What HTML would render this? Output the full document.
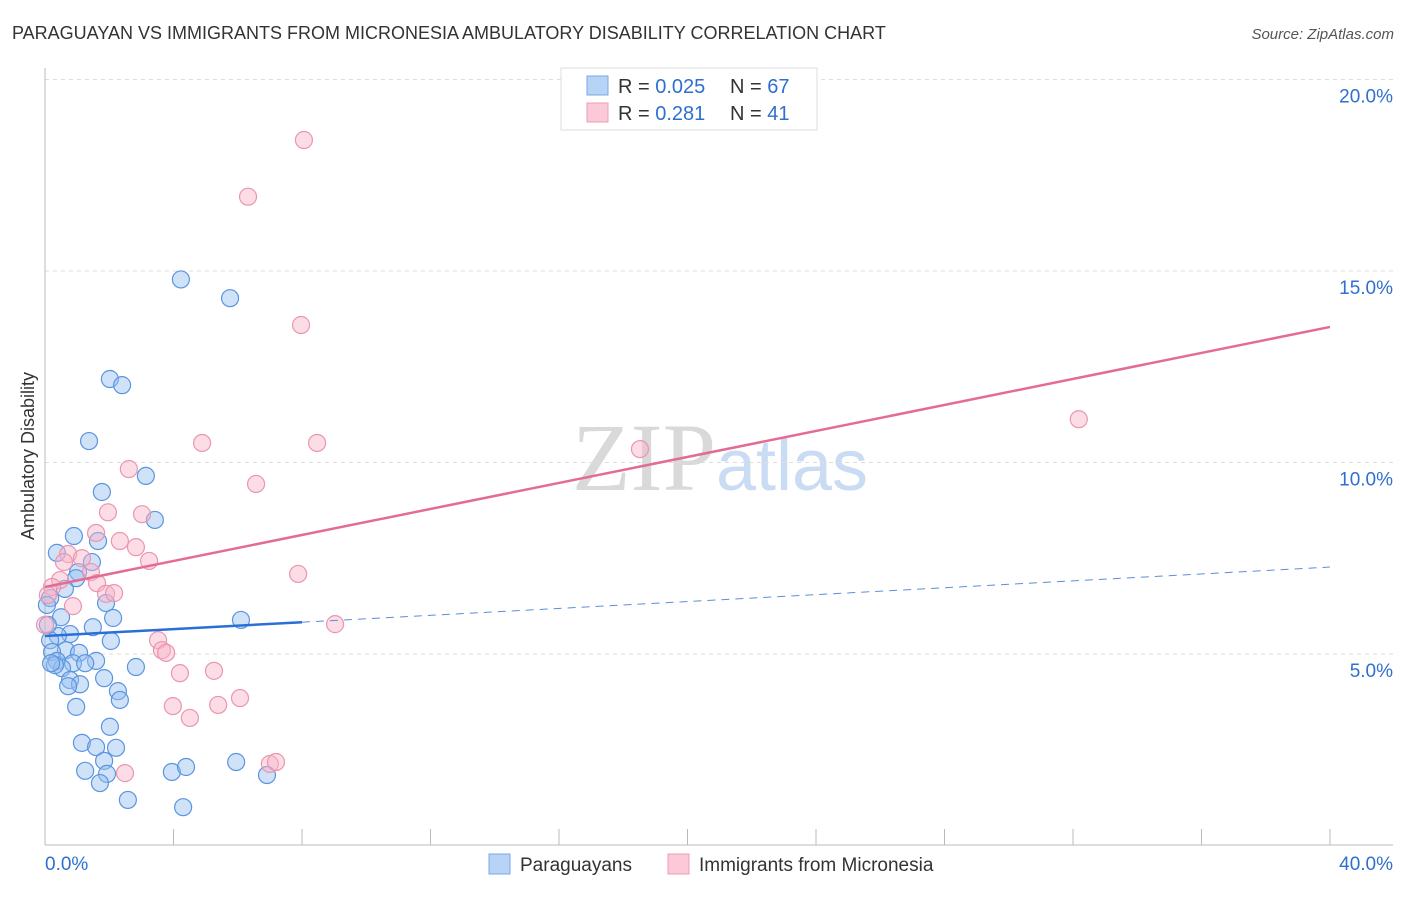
<!DOCTYPE html>
<html><head><meta charset="utf-8"><style>
body{margin:0;background:#fff;font-family:"Liberation Sans",sans-serif}
svg text{font-family:"Liberation Sans",sans-serif}
</style></head><body>
<svg id="chart" width="1406" height="892" viewBox="0 0 1406 892" xmlns="http://www.w3.org/2000/svg">
<text x="12" y="39" font-size="18" fill="#333">PARAGUAYAN VS IMMIGRANTS FROM MICRONESIA AMBULATORY DISABILITY CORRELATION CHART</text>
<text x="1394" y="39" font-size="15" fill="#555" font-style="italic" text-anchor="end">Source: ZipAtlas.com</text>
<text x="720" y="490" font-size="96" text-anchor="middle"><tspan font-family="Liberation Serif,serif" fill="#d9d9d9">ZIP</tspan><tspan fill="#c9dcf3" font-size="72">atlas</tspan></text>
<g id="grid"></g>
<g id="axes"></g>
<g id="marks"></g>
<text transform="translate(34,456) rotate(-90)" font-size="18" fill="#333" text-anchor="middle">Ambulatory Disability</text>
<g>
<rect x="561" y="68" width="256" height="62" fill="#fff" stroke="#ddd"/>
<rect x="587" y="76" width="21" height="19" fill="#b7d3f6" stroke="#7aaae6"/>
<rect x="587" y="103" width="21" height="19" fill="#fbc9d7" stroke="#ee9db5"/>
<text x="618" y="93" font-size="20" fill="#333">R = <tspan fill="#2f6fd0">0.025</tspan></text>
<text x="730" y="93" font-size="20" fill="#333">N = <tspan fill="#2f6fd0">67</tspan></text>
<text x="618" y="120" font-size="20" fill="#333">R =  <tspan fill="#2f6fd0">0.281</tspan></text>
<text x="730" y="120" font-size="20" fill="#333">N =  <tspan fill="#2f6fd0">41</tspan></text>
</g>
<g>
<rect x="489" y="854" width="21" height="20" fill="#b7d3f6" stroke="#7aaae6"/>
<text x="520" y="871" font-size="19" fill="#333">Paraguayans</text>
<rect x="668" y="854" width="21" height="20" fill="#fbc9d7" stroke="#ee9db5"/>
<text x="699" y="871" font-size="19" fill="#333">Immigrants from Micronesia</text>
</g>
</svg>
<script>
const xTicks=[0,4,8,12,16,20,24,28,32,36,40];
const yTicks=[5,10,15,20];
const yTickLabels=["5.0%","10.0%","15.0%","20.0%"];
const xTickLabels=["0.0%","40.0%"];
const blueX=[4.23,5.76,2.02,2.40,1.37,3.14,1.77,3.42,0.90,1.65,0.37,1.46,1.03,0.97,0.62,0.16,1.90,0.50,2.12,6.10,1.49,0.78,0.40,0.16,2.05,0.65,0.22,1.06,0.37,1.59,0.87,1.25,0.53,2.83,0.31,0.78,1.09,0.72,1.84,2.27,2.33,0.97,2.02,1.15,1.59,2.21,1.84,1.25,1.93,3.95,4.39,5.95,6.91,1.71,2.58,4.30,0.06,0.09,0.19];
const blueY=[14.78,14.29,12.18,12.02,10.56,9.65,9.23,8.50,8.08,7.95,7.64,7.40,7.14,6.98,6.70,6.46,6.33,5.96,5.94,5.89,5.70,5.52,5.47,5.36,5.34,5.10,5.05,5.03,4.82,4.82,4.76,4.76,4.63,4.66,4.71,4.32,4.21,4.16,4.37,4.03,3.80,3.62,3.10,2.68,2.57,2.55,2.21,1.95,1.87,1.92,2.05,2.18,1.84,1.63,1.19,1.00,6.28,5.76,4.76];
const pinkX=[8.06,6.32,7.97,8.47,4.89,18.52,32.18,2.61,6.57,3.02,1.96,1.59,2.33,2.83,0.72,1.15,3.24,0.59,1.43,7.88,0.47,1.62,0.22,1.90,2.15,0.87,0.09,9.03,3.52,3.64,3.77,4.20,5.26,6.07,5.39,3.98,4.51,2.49,7.00,7.19,0];
const pinkY=[18.42,16.94,13.59,10.51,10.51,10.35,11.13,9.83,9.44,8.65,8.70,8.16,7.95,7.79,7.61,7.50,7.43,7.40,7.14,7.09,6.93,6.85,6.75,6.57,6.59,6.25,6.54,5.78,5.36,5.10,5.03,4.50,4.56,3.85,3.67,3.64,3.33,1.89,2.13,2.18,5.76];
const blueTrend=[5.47,7.27]; // y at x=0 and x=40
const pinkTrend=[6.75,13.54];
const blueSolidEnd=8;

const X0=45,X1=1330,Y0=845.5,PXY=38.3;
const xs=v=>X0+(X1-X0)*v/40;
const ys=v=>Y0-v*PXY;
const NS="http://www.w3.org/2000/svg";
function mk(tag,attrs,parent){const e=document.createElementNS(NS,tag);for(const k in attrs)e.setAttribute(k,attrs[k]);document.getElementById(parent).appendChild(e);return e;}
yTicks.forEach((t,i)=>{
  const g=mk('line',{x1:X0,x2:1393,y1:ys(t),y2:ys(t),stroke:'#ddd','stroke-dasharray':'4,4'},'grid');
  
  
  const l=mk('text',{x:1393,y:ys(t)+23,'font-size':19,fill:'#2f6fd0','text-anchor':'end'},'axes');
  l.textContent=yTickLabels[i];
  
  
});
const ax=mk('line',{x1:X0,x2:X0,y1:68,y2:845,stroke:'#bbb'},'axes');


const bx=mk('line',{x1:X0,x2:1393,y1:845,y2:845,stroke:'#bbb'},'axes');


xTicks.forEach(t=>{
  const tk=mk('line',{x1:xs(t),x2:xs(t),y1:829,y2:845,stroke:'#bbb'},'axes');
  
  
});
const xl0=mk('text',{x:45,y:870,'font-size':19,fill:'#2f6fd0'},'axes');xl0.textContent=xTickLabels[0];


const xl1=mk('text',{x:1393,y:870,'font-size':19,fill:'#2f6fd0','text-anchor':'end'},'axes');xl1.textContent=xTickLabels[1];


blueX.forEach((x,i)=>{
  const c=mk('circle',{cx:xs(x),cy:ys(blueY[i]),r:8.5,fill:'rgba(150,190,240,0.45)',stroke:'#5a95e0','stroke-width':1.2},'marks');
  
  
});
pinkX.forEach((x,i)=>{
  const c=mk('circle',{cx:xs(x),cy:ys(pinkY[i]),r:8.5,fill:'rgba(248,180,200,0.45)',stroke:'#eb95b0','stroke-width':1.2},'marks');
  
  
});
const bt=v=>blueTrend[0]+(blueTrend[1]-blueTrend[0])*v/40;
const l1=mk('line',{x1:xs(0),y1:ys(bt(0)),x2:xs(blueSolidEnd),y2:ys(bt(blueSolidEnd)),stroke:'#2a6fd6','stroke-width':2.5},'marks');


const l2=mk('line',{x1:xs(blueSolidEnd),y1:ys(bt(blueSolidEnd)),x2:xs(40),y2:ys(bt(40)),stroke:'#5a8fd8','stroke-width':1,'stroke-dasharray':'8,6'},'marks');


const l3=mk('line',{x1:xs(0),y1:ys(pinkTrend[0]),x2:xs(40),y2:ys(pinkTrend[1]),stroke:'#e46b94','stroke-width':2.5},'marks');


</script>
</body></html>
